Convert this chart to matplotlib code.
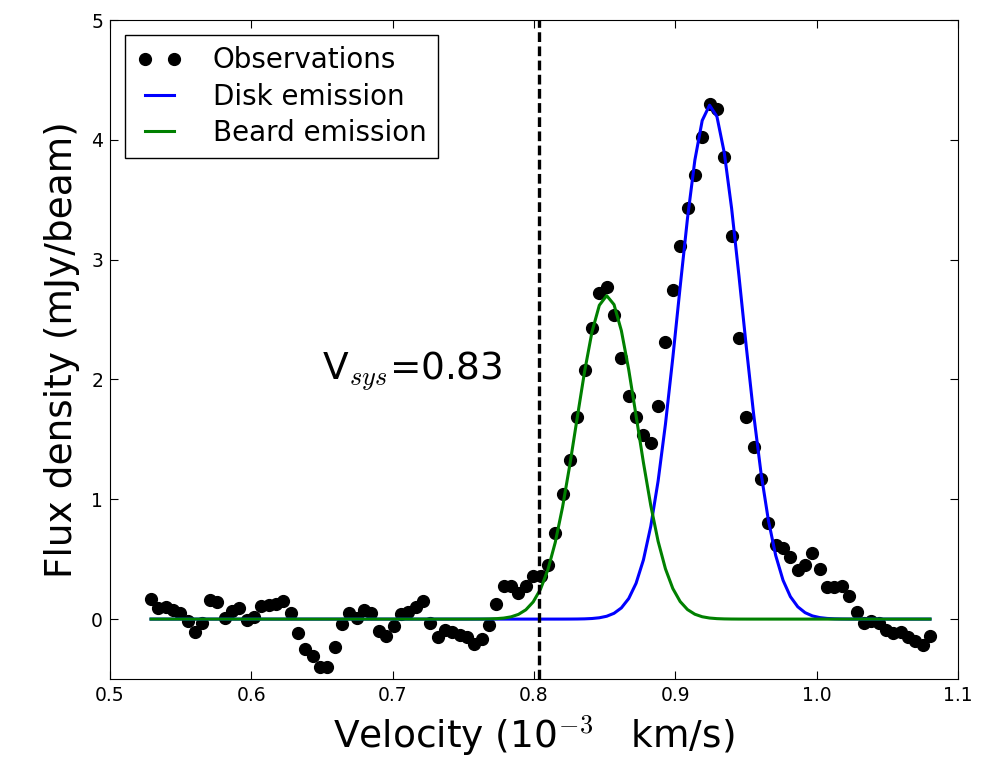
import numpy as np
import matplotlib
matplotlib.use('Agg')
import matplotlib.pyplot as plt

plt.rcParams['font.family'] = ['DejaVu Sans']
plt.rcParams['mathtext.fontset'] = 'cm'
plt.rcParams['lines.scale_dashes'] = False

# velocity channels (10^-3 km/s)
velocity = [0.5290, 0.5342, 0.5394, 0.5446, 0.5498, 0.5550, 0.5602, 0.5654, 0.5706, 0.5758,
            0.5810, 0.5862, 0.5914, 0.5966, 0.6018, 0.6070, 0.6122, 0.6174, 0.6226, 0.6278,
            0.6330, 0.6382, 0.6434, 0.6486, 0.6538, 0.6590, 0.6642, 0.6694, 0.6746, 0.6798,
            0.6850, 0.6902, 0.6954, 0.7006, 0.7058, 0.7110, 0.7162, 0.7214, 0.7266, 0.7318,
            0.7370, 0.7422, 0.7474, 0.7526, 0.7578, 0.7630, 0.7682, 0.7734, 0.7786, 0.7838,
            0.7890, 0.7942, 0.7994, 0.8046, 0.8098, 0.8150, 0.8202, 0.8254, 0.8306, 0.8358,
            0.8410, 0.8462, 0.8514, 0.8566, 0.8618, 0.8670, 0.8722, 0.8774, 0.8826, 0.8878,
            0.8930, 0.8982, 0.9034, 0.9086, 0.9138, 0.9190, 0.9242, 0.9294, 0.9346, 0.9398,
            0.9450, 0.9502, 0.9554, 0.9606, 0.9658, 0.9710, 0.9762, 0.9814, 0.9866, 0.9918,
            0.9970, 1.0022, 1.0074, 1.0126, 1.0178, 1.0230, 1.0282, 1.0334, 1.0386, 1.0438,
            1.0490, 1.0542, 1.0594, 1.0646, 1.0698, 1.0750, 1.0802]

# observed flux density (mJy/beam)
flux = [0.17, 0.09, 0.10, 0.08, 0.05, -0.02, -0.11, -0.03, 0.16, 0.14,
        0.01, 0.07, 0.09, -0.01, 0.02, 0.11, 0.12, 0.13, 0.15, 0.05,
        -0.12, -0.25, -0.31, -0.40, -0.40, -0.23, -0.04, 0.05, 0.01, 0.08,
        0.05, -0.10, -0.14, -0.06, 0.04, 0.06, 0.10, 0.15, -0.03, -0.15,
        -0.09, -0.11, -0.13, -0.15, -0.21, -0.17, -0.05, 0.13, 0.28, 0.28,
        0.22, 0.28, 0.36, 0.36, 0.45, 0.72, 1.04, 1.33, 1.69, 2.08,
        2.43, 2.72, 2.77, 2.54, 2.18, 1.86, 1.69, 1.54, 1.47, 1.78,
        2.31, 2.75, 3.11, 3.43, 3.71, 4.02, 4.30, 4.26, 3.86, 3.20,
        2.35, 1.69, 1.44, 1.17, 0.80, 0.62, 0.59, 0.52, 0.41, 0.45,
        0.55, 0.42, 0.27, 0.27, 0.28, 0.19, 0.06, -0.03, -0.02, -0.03,
        -0.09, -0.12, -0.11, -0.15, -0.18, -0.22, -0.14]

# gaussian fit parameters: amplitude, centre, sigma
disk_fit = (4.29, 0.9246, 0.0227)
beard_fit = (2.70, 0.8515, 0.0215)

v_dash = 0.8035


def gauss(v, p):
    a, c, s = p
    return a * np.exp(-(v - c) ** 2 / (2.0 * s ** 2))


v = np.array(velocity)

fig = plt.figure(figsize=(9.94, 7.59), dpi=100)
ax = fig.add_axes([0.1107, 0.1054, 0.8531, 0.8682])

ax.plot(v, flux, 'o', color='black', markersize=8.5, label='Observations')
ax.plot(v, gauss(v, disk_fit), color='blue', lw=2.2, label='Disk emission')
ax.plot(v, gauss(v, beard_fit), color='green', lw=2.2, label='Beard emission')
ax.axvline(v_dash, color='black', lw=2.4, linestyle=(0, (7, 3.2)))

ax.text(0.65, 2.0, r'V$_{sys}$=0.83', fontsize=27)

ax.set_xlim(0.5, 1.1)
ax.set_ylim(-0.5, 5)
ax.set_xticks([0.5, 0.6, 0.7, 0.8, 0.9, 1.0, 1.1])
ax.set_xticklabels(['0.5', '0.6', '0.7', '0.8', '0.9', '1.0', '1.1'])
ax.set_yticks([0, 1, 2, 3, 4, 5])
ax.tick_params(direction='in', top=True, right=True, length=6, labelsize=13.5, pad=5)

ax.set_xlabel(r'Velocity (10$^{-3}$   km/s)', fontsize=27, labelpad=6)
ax.set_ylabel('Flux density (mJy/beam)', fontsize=27, labelpad=8)

leg = ax.legend(loc='upper left', numpoints=2, fontsize=20, fancybox=False,
                framealpha=1, handlelength=1.65, handletextpad=1.1,
                labelspacing=0.3, borderaxespad=0.55)
leg.get_frame().set_edgecolor('black')

fig.savefig('out.png', dpi=100)
